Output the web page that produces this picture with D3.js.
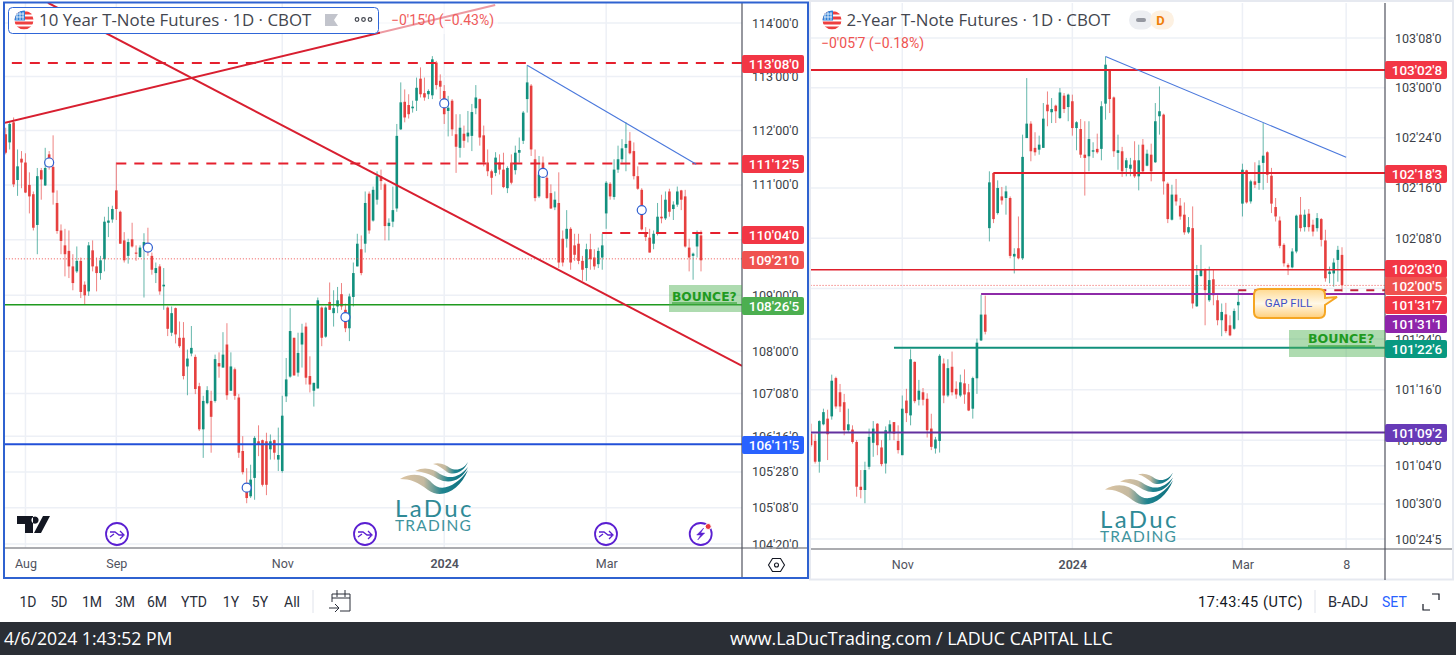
<!DOCTYPE html>
<html>
<head>
<meta charset="utf-8">
<title>T-Note Futures</title>
<script src="https://cdn.jsdelivr.net/npm/d3@7"></script>
<style>
  html, body { margin: 0; padding: 0; background: #fff; }
  svg { display: block; }
  text { font-family: Roboto, sans-serif; }
</style>
</head>
<body>
<svg id="chart" width="1456" height="655"></svg>
<script>
// =========================
// Data
// =========================

// 10 Year T-Note, daily candles
const tenOpen = [
  111.93,111.78,112.15,111.09,111.48,111.41,111.00,110.83,110.27,111.27,
  110.99,111.56,111.33,110.67,110.17,109.90,109.80,109.52,109.43,109.62,
  109.19,109.07,109.81,109.52,109.40,109.65,110.31,110.37,110.90,110.51,
  109.99,109.71,110.01,109.77,109.69,109.86,109.93,109.71,109.40,109.52,
  109.16,108.78,108.33,108.77,108.24,108.24,107.73,107.96,107.90,107.38,
  106.62,107.08,107.12,107.12,107.79,107.71,108.12,107.30,107.68,107.18,
  106.24,105.68,105.45,105.77,106.41,106.43,106.41,106.27,106.43,106.09,
  105.89,107.20,107.55,108.24,107.62,108.12,108.44,107.56,107.30,107.34,
  108.78,108.26,108.88,108.68,108.80,109.02,108.74,108.41,108.97,109.52,
  109.83,109.93,110.84,110.35,110.73,111.16,111.01,110.25,110.33,110.57,
  112.02,112.53,112.47,112.41,112.55,112.96,112.69,112.67,112.65,113.26,
  112.92,112.73,112.36,112.55,111.93,111.68,111.94,111.89,111.90,112.41,
  112.58,111.91,111.41,111.25,111.22,111.41,111.28,110.94,111.41,111.27,
  111.59,111.81,112.58,112.83,111.47,110.79,111.41,111.13,110.85,110.59,
  110.67,110.02,110.02,110.20,109.90,109.93,109.62,109.49,109.83,109.68,
  109.56,109.68,110.48,111.02,110.78,111.28,111.47,111.68,111.81,111.62,
  111.16,110.91,110.14,110.04,109.93,110.11,110.42,110.39,110.88,110.56,
  110.64,110.90,110.79,109.86,109.71,109.88,110.08
];
const tenHigh = [
  112.05,112.16,112.24,111.65,111.62,111.58,111.23,110.88,111.31,111.31,
  111.68,111.62,111.91,110.90,110.28,110.20,110.17,109.74,109.88,109.68,
  109.25,109.96,109.99,109.68,109.71,110.42,110.60,110.62,111.41,110.53,
  110.14,110.02,110.31,109.90,109.90,110.12,110.22,109.77,109.59,109.56,
  109.49,108.80,108.80,108.78,108.53,108.52,108.03,108.45,107.94,107.44,
  107.21,107.38,107.30,107.94,107.98,108.34,108.50,107.98,107.71,107.24,
  106.50,105.94,106.00,106.50,106.69,106.44,106.56,106.53,106.44,106.65,
  107.21,107.88,108.77,108.24,108.33,108.49,108.51,107.91,107.44,108.96,
  108.80,108.80,109.23,109.09,109.15,109.22,108.85,109.03,109.59,110.11,
  110.08,110.88,110.88,110.97,111.25,111.28,111.04,110.39,110.97,112.12,
  112.89,112.76,112.67,112.55,112.98,113.17,112.98,112.76,113.38,113.29,
  113.04,112.84,112.64,112.58,112.30,112.30,112.09,112.36,112.49,112.84,
  112.59,112.09,111.65,111.28,111.60,111.56,111.59,111.34,111.56,111.72,
  111.87,112.36,113.21,112.86,111.65,111.53,111.52,111.22,111.01,110.88,
  111.23,110.17,110.54,110.23,110.11,110.11,109.71,109.93,110.11,109.83,
  109.86,110.11,111.07,111.05,111.47,111.72,111.84,112.15,111.97,111.78,
  111.34,110.94,110.23,110.20,110.17,110.67,110.82,110.88,110.93,110.70,
  110.97,110.91,110.91,110.02,109.77,110.17,110.17
];
const tenLow = [
  111.56,111.65,110.96,110.80,110.94,110.85,110.48,110.17,109.74,110.73,
  110.98,111.28,110.64,110.11,109.74,109.34,109.31,109.09,109.40,108.95,
  108.84,108.99,109.43,109.07,109.28,109.43,110.05,110.31,110.36,109.93,
  109.59,109.57,109.86,109.62,109.68,108.96,109.71,109.37,109.22,109.01,
  108.74,108.27,108.27,108.14,108.06,107.50,107.22,107.91,107.24,106.59,
  106.12,107.06,106.21,107.09,107.53,107.71,107.14,107.30,107.14,106.12,
  105.83,105.33,105.42,105.39,106.15,105.62,105.47,106.09,106.09,105.89,
  105.86,107.10,107.53,107.57,107.55,107.71,107.41,107.27,107.02,107.34,
  108.09,108.24,108.74,108.44,108.68,108.74,108.34,108.18,108.80,109.52,
  109.36,109.77,110.11,110.33,110.64,110.91,109.99,109.99,110.23,110.51,
  112.01,112.15,112.22,112.33,112.36,112.61,112.55,112.58,112.58,112.76,
  112.58,112.12,111.89,111.90,111.22,111.50,111.68,111.78,111.62,112.30,
  111.72,111.34,111.16,110.82,111.16,111.19,110.94,110.85,111.01,111.19,
  111.41,111.75,112.33,111.53,110.70,110.76,111.16,110.74,110.56,110.54,
  109.49,109.52,109.86,109.46,109.62,109.56,109.26,109.26,109.46,109.46,
  109.49,109.46,110.20,110.73,110.73,111.22,111.41,111.25,111.56,111.10,
  110.91,110.17,109.98,109.77,109.83,110.08,110.30,110.36,110.42,110.36,
  110.60,110.54,109.86,109.43,109.28,109.68,109.43
];
const tenClose = [
  111.59,112.12,111.01,111.34,111.41,110.86,110.79,110.22,111.16,111.10,
  111.31,111.41,110.86,110.16,109.98,109.74,109.52,109.22,109.62,109.06,
  109.00,109.90,109.52,109.40,109.63,110.33,110.35,110.56,110.56,109.93,
  109.63,109.96,109.88,109.75,109.86,109.96,109.85,109.46,109.49,109.07,
  109.19,108.40,108.68,108.30,108.09,107.56,107.87,108.06,107.33,106.62,
  107.12,107.31,106.84,107.86,107.73,107.94,107.22,107.73,107.21,106.21,
  105.87,105.42,105.74,106.47,106.36,105.65,105.65,106.41,106.21,106.17,
  106.86,107.50,108.36,107.57,107.97,108.33,107.53,107.41,107.44,108.91,
  108.24,108.78,108.74,108.77,108.91,108.80,108.41,108.98,109.40,109.93,
  109.40,110.67,110.17,110.91,111.16,111.07,110.25,110.31,110.54,111.90,
  112.52,112.24,112.30,112.44,112.79,112.67,112.61,112.73,113.32,112.84,
  112.81,112.30,112.42,112.02,111.70,112.05,111.81,111.96,112.34,112.61,
  111.87,111.41,111.25,111.13,111.50,111.28,110.96,111.31,111.04,111.59,
  111.64,112.33,112.89,111.65,110.76,111.19,111.22,110.76,110.57,110.73,
  109.59,109.59,110.20,109.59,109.73,109.62,109.46,109.83,109.65,109.52,
  109.80,109.90,111.04,110.79,111.28,111.47,111.67,111.75,111.58,111.16,
  110.93,110.19,110.05,109.77,110.11,110.42,110.39,110.73,110.51,110.64,
  110.88,110.73,109.88,109.68,109.75,110.11,109.63
];

// 2-Year T-Note, daily candles
const twoOpen = [
  101.283,101.247,101.145,101.329,101.357,101.368,101.557,101.487,101.438,101.300,
  101.303,101.242,101.022,101.006,101.120,101.238,101.332,101.215,101.136,101.291,
  101.340,101.247,101.177,101.446,101.373,101.637,101.450,101.487,101.455,101.308,
  101.210,101.247,101.629,101.471,101.613,101.504,101.471,101.531,101.487,101.406,
  101.556,101.743,101.871,102.300,102.575,102.375,102.458,102.450,102.450,102.159,
  102.200,102.150,102.749,102.821,102.700,102.691,102.700,102.916,102.878,102.911,
  102.849,102.961,102.904,102.933,102.799,102.794,102.666,102.658,102.681,102.695,
  102.695,102.921,103.087,102.952,102.675,102.683,102.600,102.596,102.638,102.558,
  102.716,102.611,102.666,102.628,102.858,102.866,102.521,102.342,102.467,102.412,
  102.367,102.279,102.300,101.912,102.062,102.095,101.942,102.046,101.942,101.843,
  101.872,101.818,101.801,101.917,102.422,102.588,102.433,102.533,102.525,102.625,
  102.678,102.561,102.405,102.338,102.217,102.117,102.105,102.184,102.367,102.305,
  102.372,102.317,102.300,102.345,102.239,102.072,102.075,102.142,102.167
];
const twoHigh = [
  101.332,101.280,101.349,101.406,101.401,101.574,101.564,101.528,101.479,101.406,
  101.324,101.251,101.104,101.145,101.308,101.345,101.335,101.251,101.319,101.349,
  101.340,101.324,101.471,101.504,101.699,101.639,101.548,101.508,101.482,101.381,
  101.267,101.675,101.654,101.650,101.688,101.541,101.574,101.600,101.528,101.564,
  101.752,101.969,101.965,102.583,102.578,102.538,102.505,102.511,102.458,102.200,
  102.358,102.766,103.049,102.833,102.778,102.761,102.924,102.982,102.949,102.916,
  102.999,102.974,102.971,102.966,102.833,102.844,102.833,102.833,102.728,102.771,
  102.933,103.157,103.091,102.957,102.766,102.705,102.650,102.650,102.733,102.716,
  102.744,102.691,102.721,102.924,103.007,102.871,102.528,102.516,102.545,102.450,
  102.428,102.355,102.408,102.117,102.217,102.100,102.109,102.095,101.967,101.926,
  101.929,101.867,101.901,101.992,102.621,102.591,102.541,102.628,102.638,102.824,
  102.683,102.600,102.450,102.358,102.225,102.125,102.200,102.367,102.455,102.392,
  102.395,102.342,102.375,102.350,102.292,102.109,102.150,102.212,102.205
];
const twoLow = [
  101.218,101.136,101.091,101.324,101.153,101.352,101.406,101.389,101.275,101.291,
  101.234,100.973,100.965,100.941,101.107,101.169,101.177,101.123,101.087,101.251,
  101.251,101.185,101.177,101.340,101.324,101.433,101.422,101.422,101.264,101.202,
  101.185,101.190,101.433,101.463,101.471,101.455,101.463,101.430,101.394,101.357,
  101.479,101.740,101.773,102.234,102.325,102.367,102.417,102.367,102.150,102.075,
  102.145,102.142,102.749,102.633,102.661,102.666,102.700,102.808,102.824,102.824,
  102.844,102.874,102.833,102.761,102.688,102.650,102.462,102.583,102.650,102.671,
  102.638,102.841,102.874,102.655,102.591,102.555,102.558,102.558,102.550,102.488,
  102.575,102.608,102.533,102.625,102.766,102.467,102.325,102.338,102.412,102.342,
  102.267,102.272,101.901,101.909,102.059,101.818,101.934,101.917,101.818,101.764,
  101.779,101.764,101.796,101.843,102.358,102.422,102.422,102.500,102.491,102.491,
  102.525,102.375,102.333,102.200,102.109,102.067,102.100,102.175,102.283,102.283,
  102.283,102.259,102.283,102.209,102.034,102.026,102.009,102.034,101.984
];
const twoClose = [
  101.226,101.145,101.345,101.389,101.280,101.544,101.417,101.417,101.300,101.329,
  101.242,101.022,101.006,101.104,101.267,101.308,101.226,101.133,101.300,101.329,
  101.283,101.202,101.406,101.384,101.650,101.443,101.495,101.450,101.300,101.218,
  101.254,101.667,101.471,101.606,101.487,101.476,101.536,101.476,101.397,101.557,
  101.732,101.871,101.786,102.528,102.345,102.500,102.438,102.483,102.162,102.172,
  102.150,102.655,102.821,102.683,102.678,102.716,102.846,102.883,102.894,102.883,
  102.977,102.894,102.966,102.799,102.828,102.666,102.650,102.744,102.688,102.678,
  102.908,103.116,102.944,102.683,102.688,102.583,102.638,102.616,102.558,102.638,
  102.583,102.671,102.583,102.833,102.883,102.533,102.345,102.467,102.433,102.358,
  102.279,102.305,101.926,102.067,102.092,101.992,102.042,101.967,101.843,101.884,
  101.789,101.768,101.889,101.934,102.591,102.428,102.533,102.516,102.613,102.661,
  102.566,102.422,102.358,102.212,102.125,102.105,102.184,102.362,102.300,102.367,
  102.305,102.283,102.350,102.242,102.051,102.084,102.129,102.192,102.017
];

// Price axis ticks
const tenTicks = [114,113,112,111,110,109,108,107.25,106.5,105.875,105.25,104.625];
const twoTicks = [103.25,103,102.75,102.5,102.25,102,101.75,101.5,101.25,101.125,100.9375,100.765625];

// Time axis ticks (candle index and label)
const tenTimeIdx = [5,28,70,111,152];
const tenTimeLabels = ["Aug","Sep","Nov","2024","Mar"];
const twoTimeIdx = [22,63,104,129];
const twoTimeLabels = ["Nov","2024","Mar","8"];

// Horizontal levels and the candle they start from
const tenLevels = [113.25,111.390625,110.125,109.65625,108.828125,106.359375];
const tenLevelStart = [-3,28,151,-3,-3,-3];
const twoLevels = [103.08984375,102.57421875,102.09375,102.015625,101.9921875,101.97265625,101.70703125,101.2890625];
const twoLevelStart = [-3,44,-3,-3,103,41,20,-3];

// Trend lines, [candle index, price]
const tenRiseLine = [[-0.2,112.14],[123.9,114.34]];
const tenFallLine = [[10.7,114.38],[186.4,107.74]];
const tenBlueLine = [[132,113.21],[174.8,111.38]];
const twoBlueLine = [[71,103.157],[129,102.653]];

// Blue circle markers on the 10 year chart, [candle index, price]
const tenMarkers = [[11,111.41],[36,109.86],[61,105.6],[86,108.61],[111,112.5],[136,111.22],[161,110.54]];

// Toolbar labels
const rangeLabels = ["1D","5D","1M","3M","6M","YTD","1Y","5Y","All"];

// =========================
// Styles and layout
// =========================
const RED = "#e6403f", GREEN = "#12907e", GRID = "#edf0f6";

const tenLevelStyle = [
  { color: "#e5202e", dash: "10 8", width: 2, label: "#f23645", labelY: 64 },
  { color: "#e5202e", dash: "10 8", width: 2, label: "#f23645", labelY: 164 },
  { color: "#e5202e", dash: "10 8", width: 2, label: "#f23645", labelY: 235 },
  { color: "#ef5350", dash: "1 2", width: 1, label: "#ef5350", labelY: 260 },
  { color: "#1f9a1f", dash: null, width: 1.5, label: "#4caf50", labelY: 306 },
  { color: "#2250d8", dash: null, width: 2, label: "#2962ff", labelY: 445 }
];
const twoLevelStyle = [
  { color: "#df1f2c", dash: null, width: 2, label: "#f23645", labelY: 70 },
  { color: "#df1f2c", dash: null, width: 2, label: "#f23645", labelY: 174 },
  { color: "#df1f2c", dash: null, width: 1.5, label: "#f23645", labelY: 269 },
  { color: "#ef5350", dash: "1 2", width: 1, label: "#ef5350", labelY: 286 },
  { color: "#c2233a", dash: "8 8", width: 2, label: "#f23645", labelY: 305 },
  { color: "#8e2ba8", dash: null, width: 2, label: "#8e24aa", labelY: 324 },
  { color: "#12907c", dash: null, width: 2, label: "#089981", labelY: 349 },
  { color: "#63309f", dash: null, width: 2, label: "#673ab7", labelY: 433 }
];

const svg = d3.select("#chart");
const defs = svg.append("defs");

// Gradient used by the logo waves
const waveGrad = defs.append("linearGradient")
  .attr("id", "waveGrad")
  .attr("x1", "0%").attr("x2", "100%").attr("y1", "0%").attr("y2", "0%");
waveGrad.append("stop").attr("offset", "0%").attr("stop-color", "#dcc4a2");
waveGrad.append("stop").attr("offset", "35%").attr("stop-color", "#c4b9a0");
waveGrad.append("stop").attr("offset", "62%").attr("stop-color", "#1f8490");
waveGrad.append("stop").attr("offset", "100%").attr("stop-color", "#0d6f7d");

const calloutGrad = defs.append("linearGradient")
  .attr("id", "calloutGrad")
  .attr("x1", "0%").attr("x2", "0%").attr("y1", "0%").attr("y2", "100%");
calloutGrad.append("stop").attr("offset", "0%").attr("stop-color", "#ffd98f");
calloutGrad.append("stop").attr("offset", "50%").attr("stop-color", "#fff8e8");
calloutGrad.append("stop").attr("offset", "100%").attr("stop-color", "#ffcf7a");

// White page
svg.append("rect").attr("width", 1456).attr("height", 655).attr("fill", "#fff");

// Price like 108'26'5 (points, 32nds, tenths of a 32nd cut off)
function formatPrice(p) {
  const whole = Math.floor(p + 1e-9);
  const n = (p - whole) * 32;
  const n32 = Math.floor(n + 1e-6);
  const tenth = Math.floor((n - n32) * 10 + 1e-6);
  return whole + "'" + String(n32).padStart(2, "0") + "'" + tenth;
}

// Function to draw one chart pane
function drawPane(cfg) {
  const { id, left, right, top, bottom, x, y, candles, ticks, timeIdx, timeLabels,
          levels, levelStart, levelStyle, labelX, labelW } = cfg;

  defs.append("clipPath").attr("id", "clip-" + id)
    .append("rect")
    .attr("x", left).attr("y", top)
    .attr("width", right - left).attr("height", bottom - top);

  const plot = svg.append("g").attr("clip-path", `url(#clip-${id})`);

  // Grid
  plot.selectAll(".hgrid").data(ticks).join("line")
    .attr("x1", left).attr("x2", right)
    .attr("y1", d => y(d)).attr("y2", d => y(d))
    .attr("stroke", GRID).attr("stroke-width", 1.5);
  plot.selectAll(".vgrid").data(timeIdx).join("line")
    .attr("x1", d => x(d)).attr("x2", d => x(d))
    .attr("y1", top).attr("y2", bottom)
    .attr("stroke", GRID).attr("stroke-width", 1.5);

  // Candles
  const candle = plot.append("g").selectAll("g").data(candles).join("g");
  candle.append("line")
    .attr("x1", d => x(d.i)).attr("x2", d => x(d.i))
    .attr("y1", d => y(d.high)).attr("y2", d => y(d.low))
    .attr("stroke", d => d.close >= d.open ? GREEN : RED)
    .attr("stroke-opacity", 0.65)
    .attr("stroke-width", 1);
  candle.append("rect")
    .attr("x", d => x(d.i) - 1.3)
    .attr("width", 2.6)
    .attr("y", d => y(Math.max(d.open, d.close)))
    .attr("height", d => Math.max(1.2, Math.abs(y(d.open) - y(d.close))))
    .attr("fill", d => d.close >= d.open ? GREEN : RED);

  // Levels
  levels.forEach((p, i) => {
    const st = levelStyle[i];
    plot.append("line")
      .attr("x1", x(levelStart[i])).attr("x2", right)
      .attr("y1", y(p)).attr("y2", y(p))
      .attr("stroke", st.color)
      .attr("stroke-width", st.width)
      .attr("stroke-dasharray", st.dash);
  });

  // Price axis
  const axis = svg.append("g")
    .attr("transform", `translate(${right},0)`)
    .call(d3.axisRight(y).tickValues(ticks).tickFormat(formatPrice).tickSize(0).tickPadding(10));
  axis.select(".domain").remove();
  axis.selectAll("text").attr("font-size", 12.5).attr("fill", "#3c3f48")
    .style("font-family", "Roboto, sans-serif");

  // Time axis
  const timeAxis = svg.append("g")
    .attr("transform", `translate(0,${bottom})`)
    .call(d3.axisBottom(x).tickValues(timeIdx).tickFormat((d, i) => timeLabels[i]).tickSize(0).tickPadding(11));
  timeAxis.select(".domain").remove();
  timeAxis.selectAll("text").attr("font-size", 12.5).attr("fill", "#50535e")
    .style("font-family", "Roboto, sans-serif")
    .attr("font-weight", d => timeLabels[timeIdx.indexOf(d)] === "2024" ? 600 : 400);

  // Axis frame lines
  svg.append("line").attr("x1", left).attr("x2", cfg.frameRight).attr("y1", bottom).attr("y2", bottom)
    .attr("stroke", "#8f9196").attr("stroke-width", 1.5);
  svg.append("line").attr("x1", right).attr("x2", right).attr("y1", top).attr("y2", cfg.frameBottom)
    .attr("stroke", "#50535e").attr("stroke-width", 1.2);

  // Price labels on the axis
  levels.forEach((p, i) => {
    const st = levelStyle[i];
    svg.append("rect")
      .attr("x", labelX).attr("y", st.labelY - 9)
      .attr("width", labelW).attr("height", 18)
      .attr("rx", 2)
      .attr("fill", st.label);
    svg.append("text")
      .attr("x", labelX + labelW / 2 + 1).attr("y", st.labelY)
      .attr("dy", "0.36em")
      .attr("text-anchor", "middle")
      .attr("font-size", 13.5)
      .attr("font-weight", 500)
      .attr("fill", "#fff")
      .text(formatPrice(p));
  });

  return plot;
}

// Zip the four arrays into candle records for the join
function toCandles(open, high, low, close) {
  return open.map((o, i) => ({ i: i, open: o, high: high[i], low: low[i], close: close[i] }));
}

// Small US flag in a circle
function drawFlag(cx, cy) {
  const clipId = "flag" + cx;
  defs.append("clipPath").attr("id", clipId)
    .append("circle").attr("cx", cx).attr("cy", cy).attr("r", 9.5);
  const g = svg.append("g").attr("clip-path", `url(#${clipId})`);
  g.append("rect").attr("x", cx - 10).attr("y", cy - 10).attr("width", 20).attr("height", 20).attr("fill", "#fff");
  [-7, -2, 3, 8].forEach(dy => {
    g.append("rect").attr("x", cx - 10).attr("y", cy + dy - 1.5).attr("width", 20).attr("height", 3).attr("fill", "#ee3f3f");
  });
  g.append("rect").attr("x", cx - 10).attr("y", cy - 10).attr("width", 11).attr("height", 10.5).attr("fill", "#2f80d8");
  g.append("path")
    .attr("d", `M${cx - 8},${cy - 6}h8M${cx - 8},${cy - 3}h8M${cx - 7},${cy - 8}v8M${cx - 4},${cy - 8}v8M${cx - 1},${cy - 8}v8`)
    .attr("stroke", "#fff").attr("stroke-width", 0.8).attr("fill", "none");
}

// LaDuc logo
function drawLogo(tx, ty) {
  const g = svg.append("g").attr("transform", `translate(${tx},${ty})`);
  [
    "M0,17C12,10 24,12 32,21C42,32 58,22 68,8C60,28 42,38 28,28C18,20 10,17 0,17Z",
    "M15,9C25,4 33,7 40,12C50,18 60,15 68,5C62,18 50,23 38,17C30,12 24,10 15,9Z",
    "M33,2C40,0 46,3 50,6C56,9 63,8 68,0C64,10 54,14 47,10C42,6 38,3 33,2Z"
  ].forEach(d => {
    g.append("path").attr("d", d).attr("fill", "url(#waveGrad)");
  });
  g.append("text").attr("x", -5).attr("y", 55)
    .style("font-family", "Lato, sans-serif")
    .attr("font-size", 24).attr("letter-spacing", 2.4).attr("fill", "#2f8a96")
    .text("LaDuc");
  g.append("text").attr("x", -5).attr("y", 69)
    .style("font-family", "Lato, sans-serif")
    .attr("font-size", 15.5).attr("letter-spacing", 1.2).attr("fill", "#3f949e")
    .text("TRADING");
}

// Purple round event icon
function drawEventIcon(cx, cy, bolt) {
  const g = svg.append("g").attr("transform", `translate(${cx},${cy})`)
    .attr("fill", "none").attr("stroke", "#5a1fd1").attr("stroke-width", 1.8);
  g.append("circle").attr("r", 11).attr("fill", "#fff");
  if (bolt) {
    g.append("path").attr("d", "M3,-6L-4,1H0L-3,6L4,-1H0Z").attr("fill", "#5a1fd1").attr("stroke-width", 0.5);
    g.append("circle").attr("cx", 7.5).attr("cy", -7.5).attr("r", 3).attr("fill", "#e8363f").attr("stroke", "#fff").attr("stroke-width", 1);
  } else {
    g.append("path").attr("d", "M-7,-2H-2L2,1H6M-7,3L-3,0M3,-3L7,1L3,5").attr("stroke-width", 1.3);
  }
}

// =========================
// 10 year pane
// =========================
const tenX = d3.scaleLinear().domain([0, tenOpen.length - 1]).range([5.7, 701]);
const tenY = d3.scaleLog().domain([114, 104.625]).range([23, 544]);

const tenPlot = drawPane({
  id: "ten", left: 5, right: 742, top: 3, bottom: 548,
  x: tenX, y: tenY,
  candles: toCandles(tenOpen, tenHigh, tenLow, tenClose),
  ticks: tenTicks, timeIdx: tenTimeIdx, timeLabels: tenTimeLabels,
  levels: tenLevels, levelStart: tenLevelStart, levelStyle: tenLevelStyle,
  labelX: 742, labelW: 62, frameRight: 807, frameBottom: 578
});

const tenLine = d3.line().x(d => tenX(d[0])).y(d => tenY(d[1]));
[tenRiseLine, tenFallLine].forEach(l => {
  tenPlot.append("path").attr("d", tenLine(l)).attr("fill", "none")
    .attr("stroke", "#d81f30").attr("stroke-width", 2);
});
tenPlot.append("path").attr("d", tenLine(tenBlueLine)).attr("fill", "none")
  .attr("stroke", "#4a78dc").attr("stroke-width", 1.1);

// Markers
tenPlot.selectAll(".marker").data(tenMarkers).join("circle")
  .attr("cx", d => tenX(d[0])).attr("cy", d => tenY(d[1]))
  .attr("r", 4.5)
  .attr("fill", "#fff").attr("stroke", "#2f5fd0").attr("stroke-width", 1.2);

// Bounce box
svg.append("rect").attr("x", 669).attr("y", 285).attr("width", 73).attr("height", 27)
  .attr("fill", "#4caf50").attr("fill-opacity", 0.45);
svg.append("text").attr("x", 672).attr("y", 301)
  .style("font-family", "'DejaVu Sans', sans-serif")
  .attr("font-size", 12.3).attr("font-weight", 700).attr("fill", "#1f9a1f")
  .text("BOUNCE?");
svg.append("line").attr("x1", 672).attr("x2", 737).attr("y1", 303).attr("y2", 303)
  .attr("stroke", "#1f9a1f").attr("stroke-width", 1);

drawLogo(400, 462);

// Legend box
svg.append("rect").attr("x", 380).attr("y", 4).attr("width", 118).attr("height", 30)
  .attr("fill", "#fff").attr("fill-opacity", 0.55);
svg.append("rect").attr("x", 8.5).attr("y", 7.5).attr("width", 370).attr("height", 26)
  .attr("rx", 4).attr("fill", "#fff").attr("stroke", "#2f66d8").attr("stroke-width", 1);
drawFlag(24, 20);
svg.append("text").attr("x", 39).attr("y", 26)
  .style("font-family", "'Open Sans', sans-serif")
  .attr("font-size", 16.85).attr("fill", "#43464f")
  .text("10 Year T-Note Futures · 1D · CBOT");
svg.append("path").attr("d", "M325,14H338L334,20L338,26H325Z").attr("fill", "#c2c4cc");
[357, 363.5, 370].forEach(cx => {
  svg.append("circle").attr("cx", cx).attr("cy", 19.5).attr("r", 1.8)
    .attr("fill", "none").attr("stroke", "#43464f").attr("stroke-width", 1.2);
});
svg.append("text").attr("x", 391).attr("y", 25)
  .attr("font-size", 14).attr("fill", "#ef5b5b")
  .text("−0'15'0 (−0.43%)");

// TradingView mark
svg.append("path")
  .attr("d", "M17,516H33V533H25V524H17ZM35,516.5a3.6,3.6 0 1 0 .01,0ZM43,516H50L41,533H34Z")
  .attr("fill", "#131722");

drawEventIcon(117, 534, false);
drawEventIcon(365, 534, false);
drawEventIcon(606, 534, false);
drawEventIcon(700.7, 534, true);

// Hexagon settings icon
svg.append("path").attr("d", "M768.5,565L772.5,558.5H780.5L784.5,565L780.5,571.5H772.5Z")
  .attr("fill", "none").attr("stroke", "#131722").attr("stroke-width", 1.1);
svg.append("circle").attr("cx", 776.5).attr("cy", 565).attr("r", 2)
  .attr("fill", "none").attr("stroke", "#131722").attr("stroke-width", 1.1);

// Blue frame of the selected pane
svg.append("rect").attr("x", 4).attr("y", 2.5).attr("width", 804).attr("height", 575.5)
  .attr("fill", "none").attr("stroke", "#2f62d0").attr("stroke-width", 2);

// =========================
// 2-Year pane
// =========================
const twoX = d3.scaleLinear().domain([0, twoOpen.length - 1]).range([811, 1342]);
const twoY = d3.scaleLog().domain([103.25, 100.765625]).range([38, 539]);

// Pale frame first
svg.append("rect").attr("x", 810).attr("y", 1).attr("width", 643).attr("height", 578.5)
  .attr("fill", "none").attr("stroke", "#e6e9f0").attr("stroke-width", 2);

const twoPlot = drawPane({
  id: "two", left: 811, right: 1385, top: 3, bottom: 549,
  x: twoX, y: twoY,
  candles: toCandles(twoOpen, twoHigh, twoLow, twoClose),
  ticks: twoTicks, timeIdx: twoTimeIdx, timeLabels: twoTimeLabels,
  levels: twoLevels, levelStart: twoLevelStart, levelStyle: twoLevelStyle,
  labelX: 1385, labelW: 62, frameRight: 1452, frameBottom: 580
});

const twoLine = d3.line().x(d => twoX(d[0])).y(d => twoY(d[1]));
twoPlot.append("path").attr("d", twoLine(twoBlueLine)).attr("fill", "none")
  .attr("stroke", "#4a78dc").attr("stroke-width", 1.1);

// Bounce box
svg.append("rect").attr("x", 1289).attr("y", 330).attr("width", 96).attr("height", 27)
  .attr("fill", "#4caf50").attr("fill-opacity", 0.45);
svg.append("text").attr("x", 1308).attr("y", 343)
  .style("font-family", "'DejaVu Sans', sans-serif")
  .attr("font-size", 12.6).attr("font-weight", 700).attr("fill", "#1f9a1f")
  .text("BOUNCE?");
svg.append("line").attr("x1", 1308).attr("x2", 1375).attr("y1", 346).attr("y2", 346)
  .attr("stroke", "#1f9a1f").attr("stroke-width", 1);

// Gap fill callout
svg.append("path")
  .attr("d", "M1260,289H1319Q1325,289 1325,295V298L1337,297L1325,305V312Q1325,318 1319,318H1260Q1254,318 1254,312V295Q1254,289 1260,289Z")
  .attr("fill", "url(#calloutGrad)").attr("stroke", "#f5a623").attr("stroke-width", 2);
svg.append("text").attr("x", 1288.5).attr("y", 303).attr("dy", "0.36em")
  .attr("text-anchor", "middle").attr("font-size", 11.5).attr("fill", "#3f51c5")
  .text("GAP FILL");

drawLogo(1105, 472.5);

drawFlag(832, 20);
svg.append("text").attr("x", 846.5).attr("y", 26)
  .style("font-family", "'Open Sans', sans-serif")
  .attr("font-size", 16.85).attr("fill", "#43464f")
  .text("2-Year T-Note Futures · 1D · CBOT");
svg.append("text").attr("x", 821).attr("y", 48)
  .attr("font-size", 14).attr("fill", "#ef5350")
  .text("−0'05'7 (−0.18%)");

// Status badge
svg.append("rect").attr("x", 1129).attr("y", 10.5).attr("width", 24).attr("height", 19).attr("rx", 9.5).attr("fill", "#eceef2");
svg.append("rect").attr("x", 1150).attr("y", 10.5).attr("width", 24).attr("height", 19).attr("rx", 9.5).attr("fill", "#fdf1e2");
svg.append("rect").attr("x", 1136).attr("y", 18).attr("width", 10).attr("height", 4).attr("rx", 2).attr("fill", "#9598a1");
svg.append("text").attr("x", 1160.5).attr("y", 20).attr("dy", "0.36em").attr("text-anchor", "middle")
  .attr("font-size", 13).attr("font-weight", 700).attr("fill", "#f07f09").text("D");

// =========================
// Bottom toolbar and footer
// =========================
const rangeX = [28, 59, 92, 125, 157, 194, 231, 260, 292];
svg.selectAll(".range").data(rangeLabels).join("text")
  .attr("x", (d, i) => rangeX[i]).attr("y", 602).attr("dy", "0.36em")
  .attr("text-anchor", "middle").attr("font-size", 14).attr("fill", "#2a2e39")
  .text(d => d);

svg.append("line").attr("x1", 313).attr("x2", 313).attr("y1", 590).attr("y2", 613).attr("stroke", "#e0e3eb");
svg.append("path")
  .attr("d", "M332,602V594H350V611H340M337,590V597M345,590V597M332,598H350M329,608H338M335,604L339,608L335,612")
  .attr("fill", "none").attr("stroke", "#2a2e39").attr("stroke-width", 1);

svg.append("text").attr("x", 1198).attr("y", 602).attr("dy", "0.36em")
  .attr("font-size", 14.5).attr("letter-spacing", 0.6).attr("fill", "#131722")
  .text("17:43:45 (UTC)");
svg.append("line").attr("x1", 1315).attr("x2", 1315).attr("y1", 590).attr("y2", 613).attr("stroke", "#e0e3eb");
svg.append("text").attr("x", 1328).attr("y", 602).attr("dy", "0.36em")
  .attr("font-size", 14.6).attr("fill", "#2a2e39").text("B-ADJ");
svg.append("text").attr("x", 1382).attr("y", 602).attr("dy", "0.36em")
  .attr("font-size", 14).attr("fill", "#2962ff").text("SET");
svg.append("path").attr("d", "M1423,604V610H1430M1432,594H1439V600")
  .attr("fill", "none").attr("stroke", "#131722").attr("stroke-width", 1.2);

// Dark footer
svg.append("rect").attr("x", 0).attr("y", 622).attr("width", 1456).attr("height", 33).attr("fill", "#2a2e35");
svg.append("text").attr("x", 4).attr("y", 639).attr("dy", "0.36em")
  .style("font-family", "'Open Sans', sans-serif")
  .attr("font-size", 17.6).attr("fill", "#fff").text("4/6/2024 1:43:52 PM");
svg.append("text").attr("x", 730).attr("y", 639).attr("dy", "0.36em")
  .style("font-family", "'Open Sans', sans-serif")
  .attr("font-size", 17.85).attr("fill", "#fff").text("www.LaDucTrading.com / LADUC CAPITAL LLC");
</script>
</body>
</html>
